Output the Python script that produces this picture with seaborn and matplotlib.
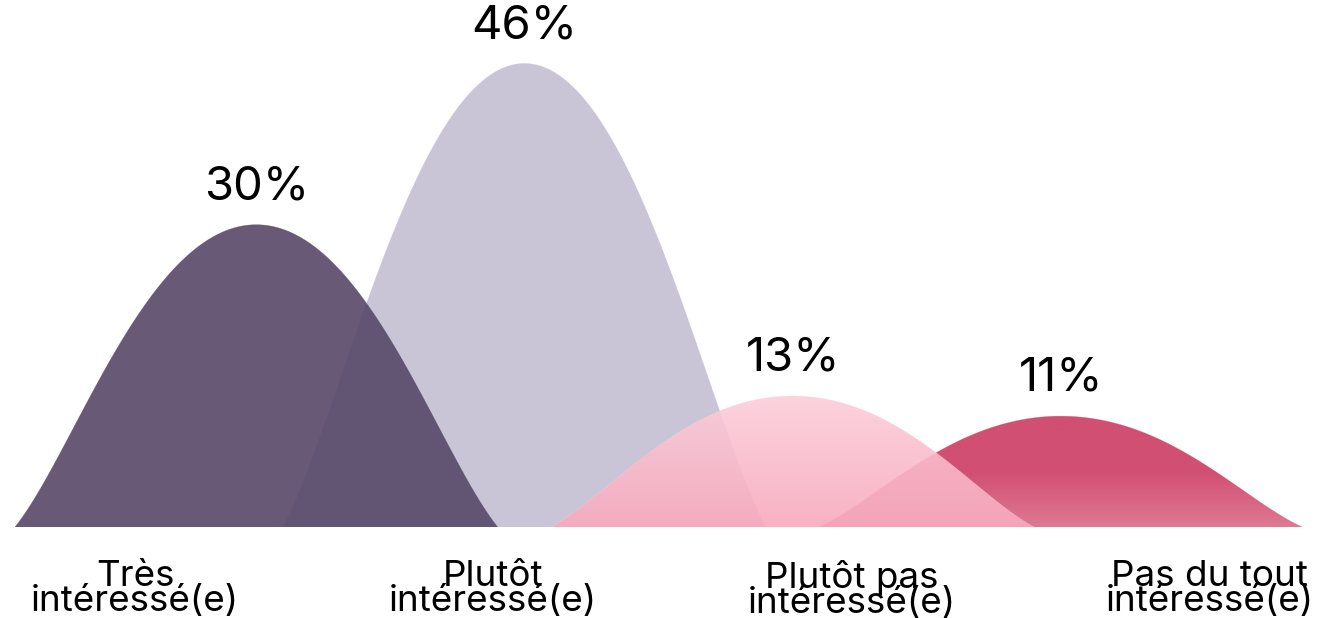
import numpy as np
import matplotlib
matplotlib.use("Agg")
import matplotlib.pyplot as plt
import seaborn as sns
import pandas as pd
from matplotlib.patches import Polygon
from matplotlib.colors import LinearSegmentedColormap

# ---- data ----
categories = ["Très\nintéressé(e)", "Plutôt\nintéressé(e)",
              "Plutôt pas\nintéressé(e)", "Pas du tout\nintéressé(e)"]
values = [30, 46, 13, 11]
value_labels = ["30%", "46%", "13%", "11%"]

# ---- style ----
sns.set_theme(style="white")
plt.rcParams['font.family'] = ['Inter', 'DejaVu Sans']

fig = plt.figure(figsize=(13.24, 6.18), dpi=100)
ax = fig.add_axes([15 / 1324, 91 / 618, 1287 / 1324, 527 / 618])
ax.set_xlim(-0.9, 3.9)
ax.set_ylim(0, 52.3)


def mountain(xc, h, hw=0.9, n=120):
    s = np.linspace(0, 1, n)
    bx = [0, 0.25, 0.55, 1.0]
    by = [0, 0.25, 1.0, 1.0]

    def B(p):
        return ((1 - s) ** 3 * p[0] + 3 * (1 - s) ** 2 * s * p[1]
                + 3 * (1 - s) * s ** 2 * p[2] + s ** 3 * p[3])
    tx, ty = B(bx), B(by)
    xl = xc - hw + tx * hw
    xr = xc + hw - tx[::-1] * hw
    x = np.concatenate([xl, xr])
    y = np.concatenate([ty, ty[::-1]]) * h
    return x, y


# styles per category (index order)
solid = {0: ("#574868", 0.9), 1: ("#CAC4D7", 1.0)}
gradients = {
    2: ([(0.0, "#F8AABD"), (1.0, "#FCCEDA")], 0.9),
    3: ([(0.0, "#DE7994"), (0.5, "#D14F72"), (1.0, "#D14F72")], 1.0),
}
zorders = {1: 1, 0: 2, 3: 3, 2: 4}

for i, (cat, v) in enumerate(zip(categories, values)):
    x, y = mountain(i, v)
    z = zorders[i]
    df = pd.DataFrame({"x": x, "y": y})
    if i in solid:
        col, a = solid[i]
        ax.fill(x, y, color=col, alpha=a, lw=0, zorder=z)
        edge = col
    else:
        stops, a = gradients[i]
        cmap = LinearSegmentedColormap.from_list(f"g{i}", stops)
        grad = np.linspace(0, 1, 256).reshape(-1, 1)
        im = ax.imshow(grad, extent=[x.min(), x.max(), 0, v], origin="lower",
                       aspect="auto", cmap=cmap, alpha=a, zorder=z)
        poly = Polygon(np.column_stack([x, y]), closed=True,
                       transform=ax.transData, facecolor="none", edgecolor="none")
        ax.add_patch(poly)
        im.set_clip_path(poly)
        edge = stops[-1][1]
    sns.lineplot(data=df, x="x", y="y", sort=False, estimator=None, ax=ax,
                 color=edge, lw=0.4, alpha=0.5, zorder=z)
    ax.annotate(value_labels[i], (i, v), xytext=(0, 11), textcoords="offset points",
                ha="center", va="bottom", fontsize=34, color="#000000", zorder=10)

ax.set_xlim(-0.9, 3.9)
ax.set_ylim(0, 52.3)
ax.set_xticks([])
ax.set_yticks([])
ax.set_xlabel("")
ax.set_ylabel("")

ax2 = ax.twiny()
ax2.set_xlim(-0.335, 3.257)
ax2.xaxis.set_ticks_position("bottom")
ax2.xaxis.set_label_position("bottom")
ax2.set_xticks(range(len(categories)))
ax2.set_xticklabels(categories, fontsize=26.5, linespacing=0.68, color="#000000")
ax2.tick_params(axis="x", length=0, pad=24)

for a_ in (ax, ax2):
    for sp in a_.spines.values():
        sp.set_visible(False)

fig.savefig("out.png", dpi=100)
